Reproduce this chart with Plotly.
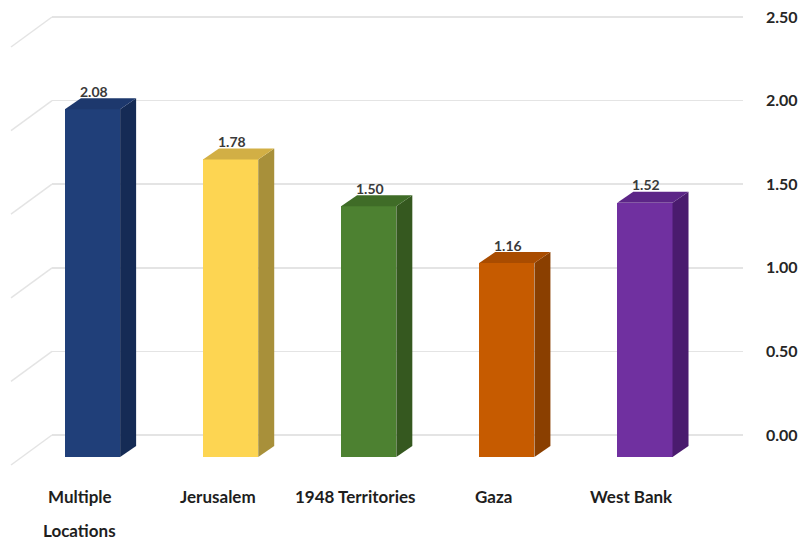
import plotly.graph_objects as go

# ---- data ----
categories = ["Multiple<br>Locations", "Jerusalem", "1948 Territories", "Gaza", "West Bank"]
values = [2.08, 1.78, 1.50, 1.16, 1.52]
value_labels = ["2.08", "1.78", "1.50", "1.16", "1.52"]
y_ticks = [0.0, 0.5, 1.0, 1.5, 2.0, 2.5]
y_tick_labels = ["0.00", "0.50", "1.00", "1.50", "2.00", "2.50"]

front_colors = ["#203F79", "#FDD552", "#4D8131", "#C65B00", "#7030A0"]
side_colors = ["#152B55", "#A8903A", "#35581F", "#8A3F00", "#4A1B6E"]
top_colors = ["#1D386D", "#D2AF45", "#3F6C27", "#A94C00", "#5C2587"]

# ---- geometry (page pixels; body margin removed in the page) ----
W, H = 802, 540
L, R, T, B = 52, 743, 10, 470   # plot area
plot_w, plot_h = R - L, B - T
px_per_y = 167.2
px_per_x = 138.1
first_center_px = 92.5
front_zero_px = 457
back_zero_px = 435
depth_dx_px, depth_dy_px = 16, 11

y_span = plot_h / px_per_y
y0 = -(B - back_zero_px) / px_per_y
y_range = [y0, y0 + y_span]
y2_0 = -(B - front_zero_px) / px_per_y
y2_range = [y2_0, y2_0 + y_span]
x_span = plot_w / px_per_x
x0 = -(first_center_px - L) / px_per_x
x_range = [x0, x0 + x_span]

xs = list(range(len(categories)))
bar_w = 0.4
ddx = depth_dx_px / px_per_x
ddy = depth_dy_px / px_per_y

fig = go.Figure()
# invisible trace that keeps the back-wall axis (ticks + grid) alive
fig.add_trace(go.Scatter(x=xs, y=values, mode="markers", marker=dict(opacity=0),
                         hoverinfo="skip", showlegend=False, yaxis="y"))
fig.add_trace(go.Bar(
    x=xs, y=values, width=bar_w, yaxis="y2",
    marker=dict(color=front_colors, line=dict(width=0)),
    hoverinfo="skip", showlegend=False,
))

shapes = []
for x, v, sc, tc in zip(xs, values, side_colors, top_colors):
    xl, xr = x - bar_w / 2, x + bar_w / 2
    side = f"M {xr},0 L {xr},{v} L {xr+ddx},{v+ddy} L {xr+ddx},{ddy} Z"
    top = f"M {xl},{v} L {xr},{v} L {xr+ddx},{v+ddy} L {xl+ddx},{v+ddy} Z"
    shapes.append(dict(type="path", path=side, xref="x", yref="y2",
                       fillcolor=sc, line=dict(width=0)))
    shapes.append(dict(type="path", path=top, xref="x", yref="y2",
                       fillcolor=tc, line=dict(width=0)))

# left side-wall diagonal lines
for t in y_ticks:
    py = back_zero_px - t * px_per_y
    shapes.append(dict(type="line", xref="paper", yref="paper",
                       x0=(11 - L) / plot_w, y0=(B - (py + 30)) / plot_h,
                       x1=0, y1=(B - py) / plot_h,
                       line=dict(color="#E4E4E4", width=1.5)))

annotations = []
for x, v, lab in zip(xs, values, value_labels):
    annotations.append(dict(x=x, y=v, xref="x", yref="y2", text=lab,
                            showarrow=False, yshift=18, xshift=1,
                            font=dict(family="Lato", size=14, color="#3A3A3A", weight="bold")))
for x, cat in zip(xs, categories):
    for i, line in enumerate(cat.split("<br>")):
        annotations.append(dict(x=x, y=0, xref="x", yref="paper", text=line,
                                showarrow=False, yanchor="middle",
                                xshift=-13, yshift=-26 - 34 * i,
                                font=dict(family="Lato", size=17, color="#1E1E1E", weight="bold")))

fig.update_layout(
    width=W, height=H,
    margin=dict(l=L, r=W - R, t=T, b=H - B, autoexpand=False),
    paper_bgcolor="white", plot_bgcolor="white",
    xaxis=dict(range=x_range, visible=False, fixedrange=True),
    yaxis=dict(range=y_range, side="right", tickvals=y_ticks, ticktext=y_tick_labels,
               showgrid=True, gridcolor="#E4E4E4", gridwidth=1.5, zeroline=False,
               showline=False, ticks="", ticklabelstandoff=22, automargin=False,
               ticklabeloverflow="allow",
               tickfont=dict(family="Lato", size=16, color="#262626", weight="bold")),
    yaxis2=dict(range=y2_range, overlaying="y", visible=False, zeroline=False,
                showgrid=False),
    shapes=shapes, annotations=annotations,
    bargap=0,
)

fig.write_html("out.html",
               config={"displayModeBar": False, "staticPlot": True},
               post_script="document.body.style.margin='0';document.body.style.overflow='hidden';")
